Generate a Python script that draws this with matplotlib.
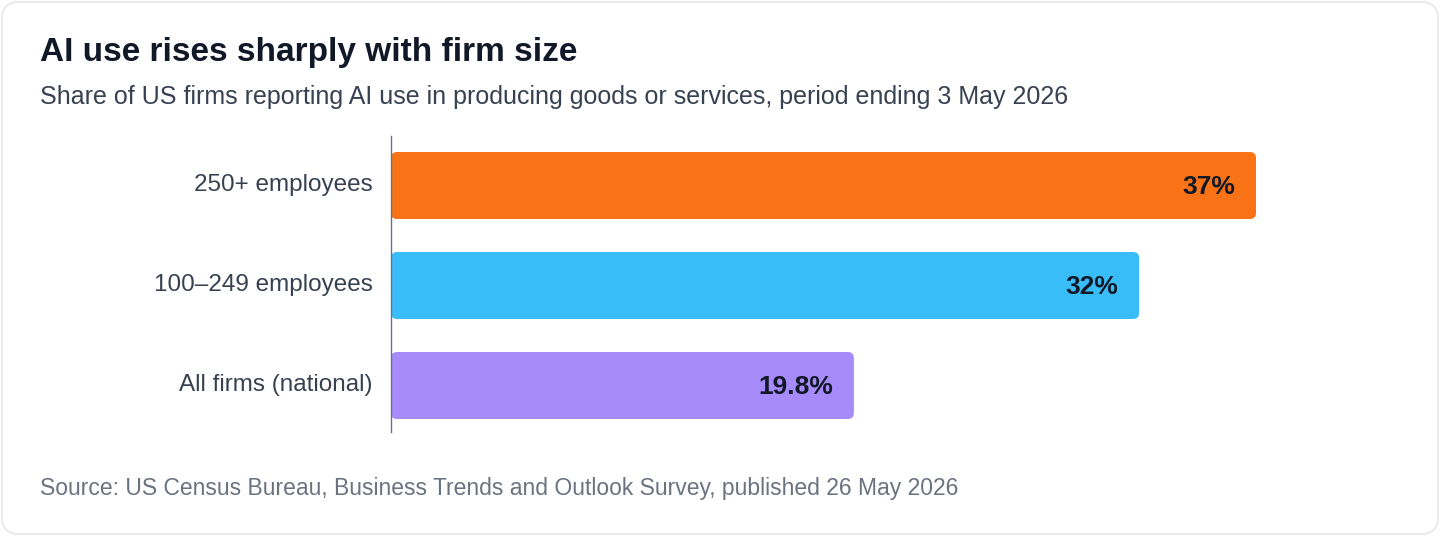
import matplotlib.pyplot as plt
from matplotlib.patches import FancyBboxPatch

categories = ["250+ employees", "100–249 employees", "All firms (national)"]
values = [37, 32, 19.8]
value_labels = ["37%", "32%", "19.8%"]
colors = ["#F97316", "#38BDF8", "#A78BFA"]

plt.rcParams['font.family'] = ['Liberation Sans', 'DejaVu Sans']

W, H = 1440, 536
fig = plt.figure(figsize=(W / 100, H / 100), dpi=100)

# card border
fig.patches.append(FancyBboxPatch((2 / W, 2 / H), 1 - 4 / W, 1 - 4 / H,
                                  boxstyle="round,pad=0,rounding_size=0.012",
                                  transform=fig.transFigure, fc="none",
                                  ec="#E5E7EB", lw=1.2, mutation_aspect=W / H,
                                  zorder=-1))

ax_l, ax_r, ax_t, ax_b = 391, 1400, 136, 432
ax = fig.add_axes([ax_l / W, 1 - ax_b / H, (ax_r - ax_l) / W, (ax_b - ax_t) / H])
xmax = 37 * (ax_r - ax_l) / 865
ax.set_xlim(0, xmax)
ax.set_ylim(2.465, -0.495)

bars = ax.barh(range(len(values)), values, height=0.67, color=colors)
px_x = xmax / (ax_r - ax_l)
px_y = 2.96 / (ax_b - ax_t)
for b, c in zip(bars, colors):
    b.set_visible(False)
    x, y, w, h = b.get_x(), b.get_y(), b.get_width(), b.get_height()
    ax.add_patch(FancyBboxPatch((x, y), w, h,
                                boxstyle=f"round,pad=0,rounding_size={6 * px_x}",
                                mutation_aspect=px_y / px_x, fc=c, ec="none"))

for i, (v, lab) in enumerate(zip(values, value_labels)):
    ax.text(v - 21 * px_x, i + 0.02, lab, ha="right", va="center", fontsize=19,
            fontweight="bold", color="#111827")

ax.set_yticks(range(len(categories)))
ax.set_yticklabels(categories, fontsize=17.5, color="#374151",
                   va="center")
for t in ax.get_yticklabels():
    t.set_y(t.get_position()[1])
ax.tick_params(axis="y", length=0, pad=13)
ax.set_xticks([])
for s in ["top", "right", "bottom"]:
    ax.spines[s].set_visible(False)
ax.spines["left"].set_color("#6B7280")
ax.spines["left"].set_linewidth(1)
ax.patch.set_visible(False)

fig.text(40 / W, 1 - 52 / H, "AI use rises sharply with firm size", fontsize=24,
         fontweight="bold", color="#111827", va="center")
fig.text(40 / W, 1 - 97 / H,
         "Share of US firms reporting AI use in producing goods or services, period ending 3 May 2026",
         fontsize=18, color="#374151", va="center")
fig.text(40 / W, 1 - 489 / H,
         "Source: US Census Bureau, Business Trends and Outlook Survey, published 26 May 2026",
         fontsize=16.5, color="#6B7280", va="center")

fig.savefig("out.png", dpi=100)
